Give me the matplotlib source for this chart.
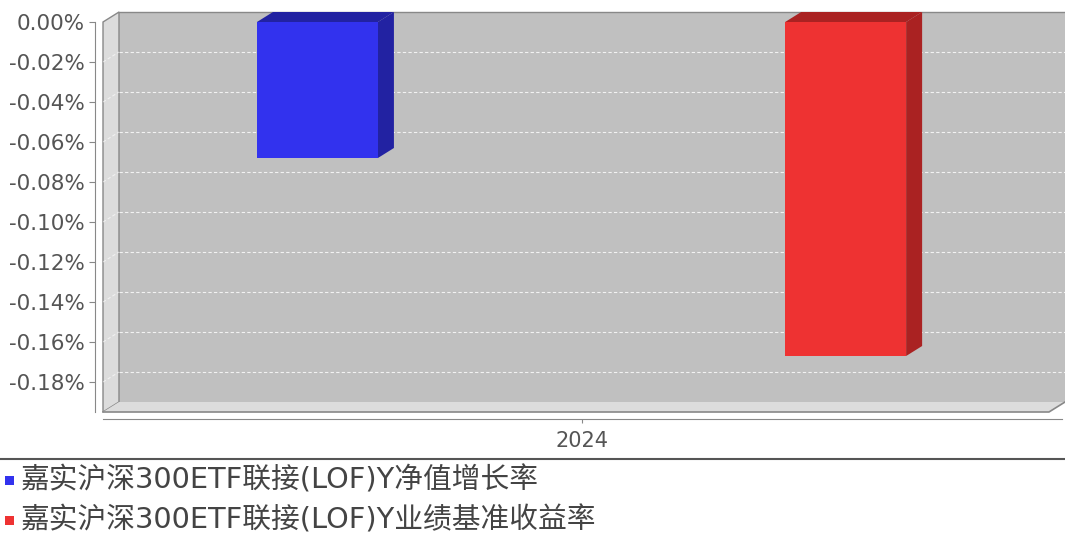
import matplotlib
matplotlib.use('Agg')
import matplotlib.pyplot as plt
from matplotlib.patches import Polygon, Rectangle
from matplotlib.lines import Line2D

# data
category = ['2024']
series_names = ['嘉实沪深300ETF联接(LOF)Y净值增长率', '嘉实沪深300ETF联接(LOF)Y业绩基准收益率']
values = [-0.068, -0.167]
front_colors = ['#3232ee', '#ee3232']
side_colors = ['#2222a2', '#aa2222']
yticks = [0.0, -0.02, -0.04, -0.06, -0.08, -0.10, -0.12, -0.14, -0.16, -0.18]

W, H = 1065, 534
fig = plt.figure(figsize=(W / 100, H / 100), dpi=100)

# front face of plot area in pixels
px_left, px_right, px_top, px_bot = 103, 1049, 22, 412
DEPTH_X, DEPTH_Y = 16, 10
ax = fig.add_axes([px_left / W, 1 - px_bot / H, (px_right - px_left) / W, (px_bot - px_top) / H])
ax.patch.set_visible(False)

xmin, xmax = -0.906, 0.885
ymin, ymax = -0.195, 0.0
ax.set_xlim(xmin, xmax)
ax.set_ylim(ymin, ymax)

# depth offset in data units
dx = DEPTH_X / (px_right - px_left) * (xmax - xmin)
dy = DEPTH_Y / (px_bot - px_top) * (ymax - ymin)

wall = '#dcdcdc'
edge = '#888888'

# back wall
ax.add_patch(Rectangle((xmin + dx, ymin + dy), xmax - xmin, ymax - ymin,
                       facecolor='#c0c0c0', edgecolor='none', clip_on=False, zorder=0))
ax.add_line(Line2D([xmin + dx, xmax + dx], [ymax + dy, ymax + dy], color=edge, lw=1, clip_on=False, zorder=1))
# left wall
ax.add_patch(Polygon([(xmin, ymax), (xmin + dx, ymax + dy), (xmin + dx, ymin + dy), (xmin, ymin)],
                     closed=True, facecolor=wall, edgecolor=edge, lw=1, clip_on=False, zorder=1))
# floor
ax.add_patch(Polygon([(xmin, ymin), (xmin + dx, ymin + dy), (xmax + dx, ymin + dy), (xmax, ymin)],
                     closed=True, facecolor=wall, edgecolor='none', clip_on=False, zorder=1))
ax.add_line(Line2D([xmin, xmax, xmax + dx], [ymin, ymin, ymin + dy], color=edge, lw=1.2, clip_on=False, zorder=2))

# gridlines on back wall and left wall
for t in yticks[1:]:
    ax.add_line(Line2D([xmin + dx, xmax + dx], [t + dy, t + dy], color='white', lw=0.8,
                       ls=(0, (3, 2)), alpha=0.8, clip_on=False, zorder=1.5))
    ax.add_line(Line2D([xmin, xmin + dx], [t, t + dy], color='white', lw=0.8,
                       ls=(0, (3, 2)), alpha=0.6, clip_on=False, zorder=1.5))

# bars
bar_x = [-0.5, 0.5]
bw = 0.229
for x, v, fc, sc in zip(bar_x, values, front_colors, side_colors):
    l, r = x - bw / 2, x + bw / 2
    ax.add_patch(Polygon([(r, 0), (r + dx, dy), (r + dx, v + dy), (r, v)],
                         closed=True, facecolor=sc, edgecolor='none', clip_on=False, zorder=3))
    ax.add_patch(Polygon([(l, 0), (l + dx, dy), (r + dx, dy), (r, 0)],
                         closed=True, facecolor=sc, edgecolor='none', clip_on=False, zorder=3))
ax.bar(bar_x, values, width=bw, color=front_colors, edgecolor='none', zorder=4, clip_on=False)

# axes
for s in ['top', 'right']:
    ax.spines[s].set_visible(False)
ax.spines['left'].set_position(('outward', 6))
ax.spines['left'].set_color(edge)
ax.spines['bottom'].set_position(('outward', 5))
ax.spines['bottom'].set_color(edge)
ax.spines['bottom'].set_bounds(xmin, xmax + dx * 0.8)
ax.set_yticks(yticks)
ax.set_yticklabels(['%.2f%%' % t for t in yticks])
ax.tick_params(axis='y', colors=edge, labelcolor='#555555', labelsize=15.5, length=4, pad=3)
ax.set_xticks([0])
ax.set_xticklabels(category)
ax.tick_params(axis='x', colors=edge, labelcolor='#555555', labelsize=15, length=3, pad=6)

# legend
fig.add_artist(Line2D([0, 1], [1 - 459 / H, 1 - 459 / H], color='#555555', lw=1.5))
for i, (name, c) in enumerate(zip(series_names, front_colors)):
    yc = 1 - (480 + 40 * i) / H
    fig.add_artist(Rectangle((5 / W, yc - 4.5 / H), 9 / W, 9 / H, facecolor=c, edgecolor='none'))
    fig.text(21 / W, yc, name, fontsize=20.7, color='#444444', va='center', ha='left',
             family=['DejaVu Sans', 'Noto Sans CJK SC'])

fig.savefig('out.png', dpi=100)
